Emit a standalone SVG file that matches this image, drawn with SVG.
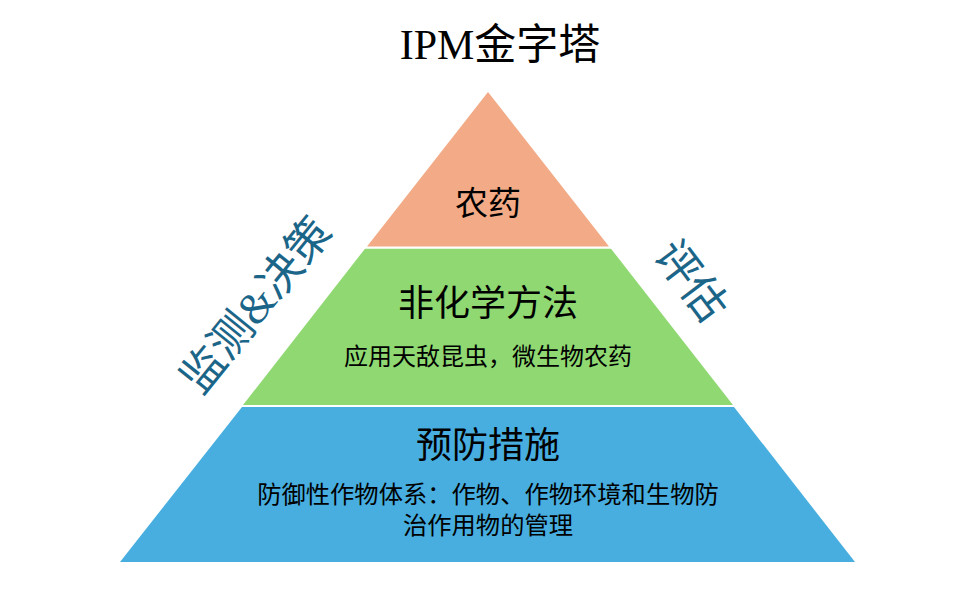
<svg xmlns="http://www.w3.org/2000/svg" width="953" height="604" viewBox="0 0 953 604">
<style>
.cjk{font-family:"Noto Sans CJK SC","Noto Sans",sans-serif;fill:#000;text-anchor:middle}
.side{font-family:"Liberation Serif","Noto Sans CJK SC",serif;fill:#1B6588;text-anchor:middle;font-size:44px}
</style>
<rect width="953" height="604" fill="#fff"/>
<text x="500" y="59" text-anchor="middle" font-family="'Liberation Serif','Noto Sans CJK SC',serif" font-size="42" fill="#000">IPM金字塔</text>
<g id="top">
<polygon points="488,92 609,246.5 367,246.5" fill="#F2AB86"/>
<text class="cjk" x="488" y="215" font-size="33">农药</text>
</g>
<g id="middle">
<polygon points="365,248.7 611,248.7 733,405 243,405" fill="#8FD872"/>
<text class="cjk" x="488" y="316" font-size="36">非化学方法</text>
<text class="cjk" x="488" y="365" font-size="24">应用天敌昆虫，微生物农药</text>
</g>
<g id="bottom">
<polygon points="242,407 734,407 855,562 120,562" fill="#47AEDF"/>
<text class="cjk" x="488" y="458" font-size="36">预防措施</text>
<text class="cjk" x="488" y="503" font-size="24.3">防御性作物体系：作物、作物环境和生物防</text>
<text class="cjk" x="488" y="534" font-size="24.3">治作用物的管理</text>
</g>
<g id="left-label">
<text class="side" transform="translate(256,305) rotate(-51)" y="15">监测&amp;决策</text>
</g>
<g id="right-label">
<text class="side" transform="translate(691,281) rotate(53)" y="15">评估</text>
</g>
<g id="connectors"/>
</svg>
